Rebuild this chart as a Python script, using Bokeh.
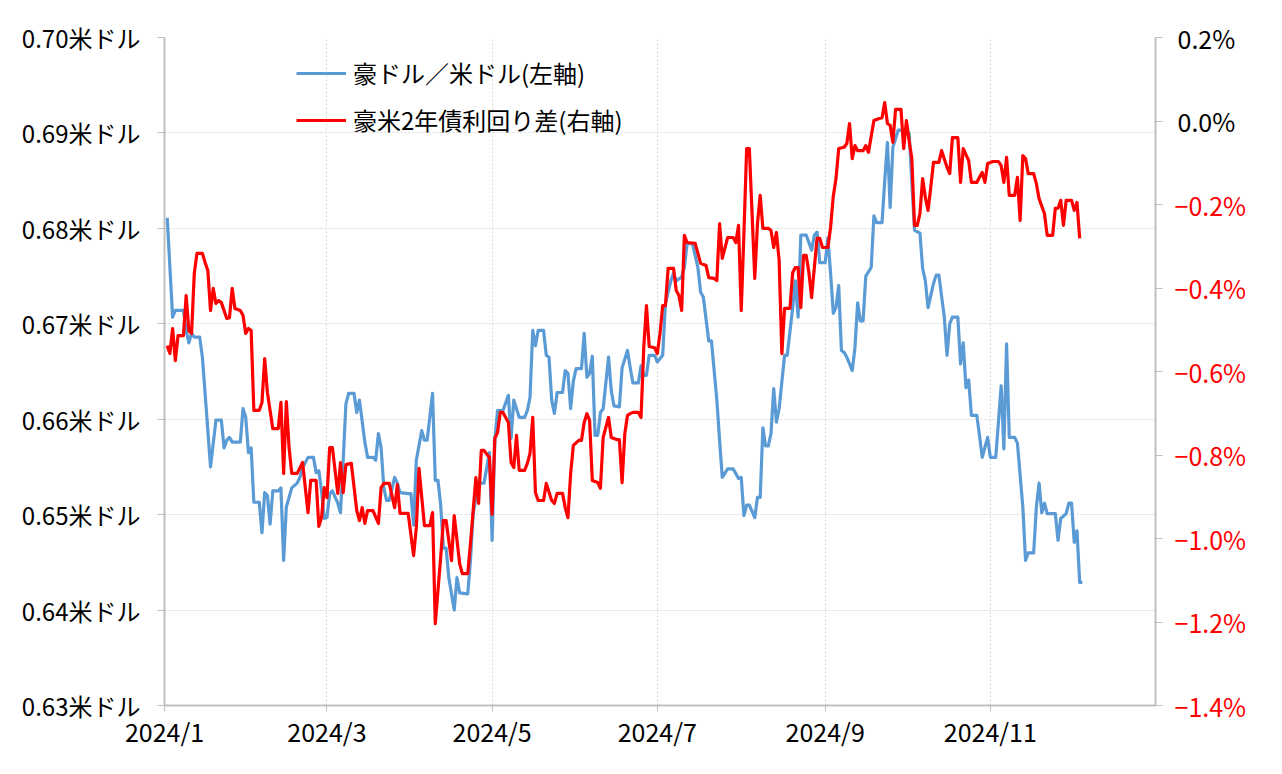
import pandas as pd
from bokeh.plotting import figure
from bokeh.models import (Range1d, LinearAxis, FixedTicker, CustomJSTickFormatter,
                          Legend, LegendItem)
from bokeh.embed import file_html
from bokeh.resources import INLINE

start_date = "2024-01-01"
end_date = "2025-01-01"

# AUD/USD (left axis), day offsets from 2024-01-01
aud_days = [1, 3, 4, 7, 8, 9, 10, 11, 13, 14, 17, 19, 21, 22, 23, 24, 25, 28, 29, 30,
            31, 32, 33, 35, 36, 37, 38, 39, 40, 42, 43, 44, 45, 47, 49, 50, 51, 53, 55, 56,
            57, 58, 59, 60, 61, 62, 64, 65, 66, 67, 68, 70, 71, 72, 74, 75, 77, 78, 79, 80,
            81, 82, 83, 85, 86, 87, 90, 91, 92, 93, 95, 96, 97, 99, 100, 101, 102, 103, 104, 105,
            107, 108, 109, 112, 113, 114, 116, 118, 120, 121, 122, 123, 125, 127, 128, 129, 131, 133, 134, 135,
            136, 137, 138, 140, 141, 142, 143, 144, 145, 147, 148, 149, 150, 151, 152, 154, 155, 156, 157, 158,
            159, 160, 161, 162, 164, 165, 166, 168, 169, 171, 172, 173, 175, 176, 177, 178, 179, 181, 182, 184,
            185, 187, 188, 189, 191, 192, 193, 195, 197, 198, 199, 201, 202, 204, 205, 206, 208, 210, 212, 213,
            214, 215, 216, 218, 219, 220, 221, 222, 223, 224, 225, 226, 227, 229, 230, 232, 233, 234, 235, 237,
            239, 240, 241, 242, 244, 245, 246, 247, 248, 249, 250, 251, 252, 254, 255, 256, 257, 258, 259, 261,
            262, 263, 265, 266, 267, 268, 269, 271, 273, 275, 277, 279, 280, 281, 282, 284, 285, 286, 288, 289,
            290, 291, 293, 294, 295, 296, 297, 298, 300, 301, 302, 304, 305, 307, 309, 310, 311, 312, 314, 315,
            317, 318, 319, 321, 322, 323, 324, 325, 326, 329, 330, 331, 333, 334, 335, 336, 337, 338, 339]
aud_usd = [0.6811, 0.6707, 0.6714, 0.6714, 0.6693, 0.6680, 0.6690, 0.6686, 0.6686, 0.6665, 0.6550, 0.6599, 0.6599, 0.6570, 0.6578, 0.6581, 0.6576, 0.6576, 0.6611, 0.6602,
           0.6565, 0.6570, 0.6513, 0.6513, 0.6481, 0.6523, 0.6520, 0.6490, 0.6525, 0.6525, 0.6528, 0.6452, 0.6508, 0.6528, 0.6533, 0.6539, 0.6549, 0.6560, 0.6560, 0.6544,
           0.6546, 0.6525, 0.6496, 0.6497, 0.6522, 0.6525, 0.6512, 0.6502, 0.6557, 0.6616, 0.6627, 0.6627, 0.6607, 0.6620, 0.6576, 0.6560, 0.6560, 0.6557, 0.6585, 0.6570,
           0.6528, 0.6515, 0.6515, 0.6539, 0.6533, 0.6523, 0.6522, 0.6522, 0.6489, 0.6557, 0.6588, 0.6578, 0.6578, 0.6627, 0.6536, 0.6536, 0.6510, 0.6465, 0.6465, 0.6434,
           0.6400, 0.6434, 0.6418, 0.6417, 0.6452, 0.6501, 0.6533, 0.6533, 0.6565, 0.6473, 0.6578, 0.6609, 0.6609, 0.6625, 0.6580, 0.6620, 0.6602, 0.6602, 0.6609, 0.6623,
           0.6693, 0.6677, 0.6693, 0.6693, 0.6667, 0.6665, 0.6620, 0.6606, 0.6628, 0.6628, 0.6651, 0.6648, 0.6611, 0.6640, 0.6653, 0.6653, 0.6690, 0.6644, 0.6648, 0.6666,
           0.6583, 0.6583, 0.6607, 0.6611, 0.6665, 0.6630, 0.6614, 0.6613, 0.6654, 0.6672, 0.6654, 0.6638, 0.6638, 0.6656, 0.6646, 0.6646, 0.6667, 0.6667, 0.6660, 0.6667,
           0.6721, 0.6745, 0.6753, 0.6745, 0.6749, 0.6759, 0.6784, 0.6784, 0.6759, 0.6733, 0.6728, 0.6682, 0.6682, 0.6620, 0.6578, 0.6539, 0.6548, 0.6548, 0.6538, 0.6539,
           0.6499, 0.6510, 0.6510, 0.6497, 0.6518, 0.6518, 0.6591, 0.6572, 0.6572, 0.6585, 0.6632, 0.6597, 0.6611, 0.6667, 0.6667, 0.6717, 0.6745, 0.6707, 0.6793, 0.6793,
           0.6777, 0.6793, 0.6796, 0.6764, 0.6764, 0.6790, 0.6753, 0.6711, 0.6717, 0.6740, 0.6672, 0.6670, 0.6665, 0.6651, 0.6675, 0.6722, 0.6703, 0.6703, 0.6750, 0.6759,
           0.6813, 0.6806, 0.6806, 0.6850, 0.6890, 0.6822, 0.6885, 0.6903, 0.6903, 0.6900, 0.6798, 0.6795, 0.6758, 0.6745, 0.6717, 0.6742, 0.6751, 0.6751, 0.6707, 0.6667,
           0.6700, 0.6707, 0.6707, 0.6658, 0.6680, 0.6633, 0.6641, 0.6604, 0.6604, 0.6583, 0.6560, 0.6581, 0.6560, 0.6560, 0.6635, 0.6569, 0.6679, 0.6581, 0.6581, 0.6575,
           0.6508, 0.6452, 0.6460, 0.6460, 0.6508, 0.6533, 0.6502, 0.6512, 0.6501, 0.6501, 0.6473, 0.6496, 0.6501, 0.6512, 0.6512, 0.6471, 0.6483, 0.6429, 0.6429]

# AU-US 2y yield spread, % (right axis)
spread_days = [1, 2, 3, 4, 5, 7, 8, 9, 10, 11, 12, 14, 15, 16, 17, 18, 19, 20, 21, 23,
               24, 25, 26, 28, 29, 30, 31, 32, 33, 35, 36, 37, 38, 40, 42, 43, 44, 45, 46, 47,
               49, 51, 53, 54, 56, 57, 58, 59, 60, 61, 62, 64, 65, 66, 67, 69, 71, 72, 73, 74,
               75, 77, 79, 80, 81, 83, 85, 86, 87, 90, 92, 93, 94, 96, 98, 99, 100, 102, 103, 104,
               106, 107, 109, 110, 112, 113, 115, 116, 117, 118, 120, 121, 122, 123, 124, 125, 127, 128, 129, 130,
               131, 133, 134, 135, 136, 137, 138, 140, 141, 143, 144, 145, 147, 148, 149, 150, 151, 153, 154, 155,
               156, 157, 158, 160, 161, 162, 164, 165, 167, 168, 169, 170, 171, 172, 173, 175, 176, 177, 178, 179,
               181, 182, 183, 184, 185, 186, 188, 189, 190, 191, 192, 193, 196, 197, 198, 200, 201, 203, 204, 205,
               206, 208, 210, 211, 212, 213, 214, 215, 216, 218, 219, 220, 221, 223, 224, 225, 226, 227, 228, 229,
               231, 232, 233, 234, 235, 236, 237, 238, 239, 240, 241, 242, 243, 245, 246, 247, 248, 249, 251, 252,
               253, 254, 255, 256, 258, 259, 260, 262, 264, 265, 266, 267, 268, 269, 270, 272, 273, 274, 275, 276,
               277, 278, 279, 280, 281, 282, 283, 284, 286, 287, 289, 290, 291, 293, 294, 295, 297, 298, 300, 301,
               302, 303, 304, 306, 308, 309, 310, 311, 312, 314, 315, 316, 317, 318, 319, 321, 322, 323, 325, 326,
               328, 329, 330, 331, 332, 333, 335, 336, 337, 338]
spread_pct = [-0.538, -0.557, -0.497, -0.574, -0.514, -0.514, -0.418, -0.502, -0.509, -0.365, -0.317, -0.317, -0.339, -0.358, -0.454, -0.401, -0.437, -0.430, -0.435, -0.473,
              -0.471, -0.401, -0.449, -0.454, -0.466, -0.509, -0.497, -0.502, -0.693, -0.693, -0.674, -0.569, -0.650, -0.737, -0.737, -0.674, -0.844, -0.672, -0.782, -0.844,
              -0.844, -0.818, -0.938, -0.861, -0.861, -0.971, -0.950, -0.878, -0.902, -0.782, -0.782, -0.892, -0.818, -0.890, -0.823, -0.820, -0.933, -0.957, -0.926, -0.964,
              -0.933, -0.933, -0.964, -0.878, -0.868, -0.868, -0.926, -0.871, -0.940, -0.940, -1.041, -0.974, -0.832, -0.969, -0.969, -0.938, -1.204, -1.045, -0.957, -0.957,
              -1.053, -0.945, -1.060, -1.084, -1.084, -1.012, -0.854, -0.916, -0.789, -0.789, -0.806, -0.942, -0.760, -0.746, -0.698, -0.698, -0.722, -0.818, -0.830, -0.753,
              -0.837, -0.837, -0.820, -0.796, -0.710, -0.890, -0.909, -0.909, -0.868, -0.909, -0.916, -0.892, -0.892, -0.926, -0.950, -0.844, -0.777, -0.765, -0.765, -0.722,
              -0.701, -0.717, -0.861, -0.866, -0.880, -0.758, -0.710, -0.758, -0.763, -0.763, -0.866, -0.749, -0.705, -0.701, -0.698, -0.698, -0.710, -0.543, -0.442, -0.540,
              -0.543, -0.557, -0.509, -0.442, -0.442, -0.353, -0.353, -0.406, -0.418, -0.454, -0.274, -0.291, -0.293, -0.317, -0.341, -0.346, -0.375, -0.377, -0.382, -0.246,
              -0.329, -0.279, -0.279, -0.291, -0.250, -0.454, -0.269, -0.066, -0.066, -0.377, -0.246, -0.178, -0.257, -0.257, -0.262, -0.303, -0.267, -0.334, -0.557, -0.449,
              -0.449, -0.363, -0.351, -0.351, -0.447, -0.322, -0.322, -0.363, -0.423, -0.351, -0.281, -0.281, -0.303, -0.303, -0.255, -0.180, -0.138, -0.066, -0.063, -0.054,
              -0.006, -0.090, -0.059, -0.071, -0.071, -0.059, -0.075, 0.001, 0.006, 0.008, 0.044, -0.006, -0.011, -0.051, 0.028, 0.028, -0.066, 0.001, -0.047, -0.090,
              -0.250, -0.250, -0.222, -0.138, -0.183, -0.214, -0.159, -0.099, -0.099, -0.071, -0.111, -0.126, -0.040, -0.040, -0.147, -0.066, -0.095, -0.147, -0.147, -0.135,
              -0.123, -0.147, -0.102, -0.097, -0.097, -0.107, -0.147, -0.087, -0.178, -0.178, -0.135, -0.238, -0.083, -0.090, -0.126, -0.126, -0.150, -0.186, -0.222, -0.274,
              -0.274, -0.209, -0.209, -0.190, -0.250, -0.190, -0.190, -0.214, -0.195, -0.281]

left_min, left_max = 0.63, 0.70
right_min, right_max = -1.4, 0.2
left_ticks = [0.63, 0.64, 0.65, 0.66, 0.67, 0.68, 0.69, 0.70]
right_ticks = [-1.4, -1.2, -1.0, -0.8, -0.6, -0.4, -0.2, 0.0, 0.2]
right_black_ticks = [0.0, 0.2]
x_tick_dates = ["2024-01-01", "2024-03-01", "2024-05-01", "2024-07-01", "2024-09-01", "2024-11-01"]
legend_labels = ["豪ドル／米ドル(左軸)", "豪米2年債利回り差(右軸)"]

FONT = "Noto Sans CJK JP"
BLUE = "#5B9BD5"
RED = "#FF0000"
AXIS = "#BFBFBF"
GRID = "#D9D9D9"

base = pd.Timestamp(start_date)
aud_x = base + pd.to_timedelta(aud_days, unit="D")
spr_x = base + pd.to_timedelta(spread_days, unit="D")

p = figure(width=1282, height=774, x_axis_type="datetime",
           x_range=Range1d(pd.Timestamp(start_date), pd.Timestamp(end_date)),
           y_range=Range1d(left_min, left_max),
           output_backend="svg", toolbar_location=None,
           min_border_left=164, min_border_right=127, min_border_top=37, min_border_bottom=69)
p.outline_line_color = None
p.background_fill_color = "white"
p.border_fill_color = "white"
p.extra_y_ranges = {"spread": Range1d(right_min, right_max)}

# x axis
xticks = [pd.Timestamp(d).value // 10**6 for d in x_tick_dates]
xa = p.xaxis[0]
xa.ticker = FixedTicker(ticks=xticks)
xa.formatter = CustomJSTickFormatter(code="const d = new Date(tick); return d.getUTCFullYear() + '/' + (d.getUTCMonth() + 1);")
xa.minor_tick_line_color = None
xa.major_tick_in = 0
xa.major_tick_out = 6
xa.major_tick_line_color = AXIS
xa.axis_line_color = AXIS
xa.axis_line_width = 2
xa.major_label_text_font = FONT
xa.major_label_text_font_size = "25px"
xa.major_label_text_color = "black"
xa.major_label_standoff = 1

# left axis
ya = p.yaxis[0]
ya.ticker = FixedTicker(ticks=left_ticks)
ya.formatter = CustomJSTickFormatter(code="return tick.toFixed(2) + '米ドル';")
ya.minor_tick_line_color = None
ya.major_tick_in = 0
ya.major_tick_out = 7
ya.major_tick_line_color = AXIS
ya.axis_line_color = AXIS
ya.axis_line_width = 2
ya.major_label_text_font = FONT
ya.major_label_text_font_size = "24px"
ya.major_label_text_color = "black"
ya.major_label_standoff = 17

# right axis (inner): ticks, axis line and the red negative labels
ra = LinearAxis(y_range_name="spread", ticker=FixedTicker(ticks=right_ticks),
                formatter=CustomJSTickFormatter(code="if (tick > -1e-9) { return ''; } return '\u2212' + Math.abs(tick).toFixed(1) + '%';"))
ra.minor_tick_line_color = None
ra.major_tick_in = 0
ra.major_tick_out = 7
ra.major_tick_line_color = AXIS
ra.axis_line_color = AXIS
ra.axis_line_width = 2
ra.major_label_text_font = FONT
ra.major_label_text_font_size = "25px"
ra.major_label_text_color = RED
ra.major_label_standoff = 12
p.add_layout(ra, "right")

# right axis (outer, invisible line): black 0.0% / 0.2% labels pulled back in line with the red ones
ba = LinearAxis(y_range_name="spread", ticker=FixedTicker(ticks=right_black_ticks),
                formatter=CustomJSTickFormatter(code="return Math.abs(tick).toFixed(1) + '%';"))
ba.minor_tick_line_color = None
ba.major_tick_line_color = None
ba.major_tick_in = 0
ba.major_tick_out = 0
ba.axis_line_color = None
ba.major_label_text_font = FONT
ba.major_label_text_font_size = "25px"
ba.major_label_text_color = "black"
ba.major_label_standoff = -72
p.add_layout(ba, "right")

# grids
p.ygrid.grid_line_color = GRID
p.ygrid.grid_line_dash = "2 2"
p.ygrid.grid_line_width = 1
p.xgrid.grid_line_color = GRID
p.xgrid.grid_line_dash = "2 2"
p.xgrid.grid_line_width = 1

r_aud = p.line(aud_x, aud_usd, line_color=BLUE, line_width=3.2, line_join="round")
r_spr = p.line(spr_x, spread_pct, line_color=RED, line_width=3.2, line_join="round", y_range_name="spread")

legend = Legend(items=[LegendItem(label=legend_labels[0], renderers=[r_aud]),
                       LegendItem(label=legend_labels[1], renderers=[r_spr])],
                location=(132, 568), orientation="vertical",
                glyph_width=50, glyph_height=30, label_height=30, spacing=12,
                label_standoff=7, padding=0, margin=0,
                label_text_font=FONT, label_text_font_size="24px", label_text_color="black",
                border_line_color=None, background_fill_alpha=0)
p.add_layout(legend)

open("out.html", "w").write(file_html(p, INLINE))
